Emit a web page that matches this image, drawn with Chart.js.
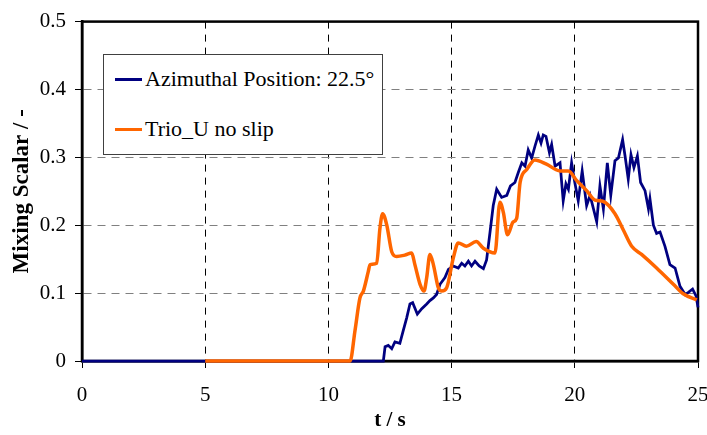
<!DOCTYPE html>
<html>
<head>
<meta charset="utf-8">
<script src="https://cdn.jsdelivr.net/npm/chart.js@4.4.0/dist/chart.umd.min.js"></script>
<style>
  body { margin: 0; background: #fff; }
  .wrap { position: relative; width: 707px; height: 435px; }
  .legend {
    position: absolute; left: 103px; top: 54px; width: 280px; height: 101px;
    background: #fff; border: 1px solid #404040; box-sizing: border-box;
    font-family: "Liberation Serif", serif; font-size: 22px; line-height: 26px; color: #000;
  }
  .legend div { position: absolute; left: 11px; white-space: nowrap; }
  .legend span { display: inline-block; width: 27px; height: 3px; vertical-align: middle; margin-right: 3px; position: relative; top: -1px; }
</style>
</head>
<body>
<div class="wrap">
  <canvas class="my-chart" width="707" height="435"></canvas>
  <div class="legend"></div>
</div>
<script>
// Azimuthal Position: 22.5° (measured)
const blueT = [0, 12.2, 12.23, 12.3, 12.43, 12.57, 12.7, 12.9, 13.04, 13.18, 13.31, 13.42, 13.61, 13.79, 13.99, 14.12, 14.26, 14.39, 14.53, 14.73, 14.87,
  15.07, 15.27, 15.41, 15.54, 15.68, 15.81, 15.95, 16.12, 16.29, 16.42, 16.56, 16.69, 16.83, 17.03, 17.24, 17.39, 17.57, 17.71, 17.85, 17.98,
  18.11, 18.25, 18.38, 18.52, 18.63, 18.72, 18.83, 18.97, 19.06, 19.2, 19.4, 19.53, 19.64, 19.74, 19.87, 20.0, 20.14, 20.3, 20.48, 20.62,
  20.89, 21.02, 21.16, 21.32, 21.46, 21.63, 21.77, 21.94, 22.04, 22.17, 22.28, 22.4, 22.54, 22.67, 22.85, 22.99, 23.05, 23.19, 23.32, 23.46,
  23.66, 23.86, 24.07, 24.27, 24.48, 24.61, 24.78, 24.92, 25.0];
const blueV = [0, 0, 0, 0.021, 0.023, 0.018, 0.028, 0.026, 0.045, 0.064, 0.084, 0.086, 0.069, 0.077, 0.084, 0.089, 0.093, 0.098, 0.113, 0.123, 0.135,
  0.14, 0.137, 0.144, 0.14, 0.147, 0.14, 0.147, 0.14, 0.136, 0.149, 0.19, 0.229, 0.253, 0.241, 0.244, 0.258, 0.263, 0.278, 0.292, 0.287,
  0.311, 0.299, 0.316, 0.333, 0.321, 0.333, 0.331, 0.307, 0.319, 0.287, 0.292, 0.236, 0.261, 0.253, 0.292, 0.263, 0.236, 0.28, 0.229, 0.244,
  0.205, 0.258, 0.224, 0.292, 0.244, 0.295, 0.299, 0.326, 0.302, 0.268, 0.304, 0.285, 0.302, 0.263, 0.251, 0.224, 0.239, 0.2, 0.188, 0.19,
  0.169, 0.142, 0.137, 0.11, 0.098, 0.101, 0.106, 0.096, 0.079];

// Trio_U no slip
const orangeT = [5, 10.88, 11.08, 11.28, 11.42, 11.62, 11.69, 11.96, 12.09, 12.2, 12.37, 12.57, 12.77, 13.1, 13.38, 13.51, 13.72, 13.88, 13.99,
  14.12, 14.26, 14.46, 14.6, 14.8, 15.07, 15.27, 15.6, 16.0, 16.29, 16.76, 16.96, 17.1, 17.27, 17.5, 17.64, 17.78, 18.05, 18.38, 18.85,
  19.4, 19.74, 20.07, 20.48, 20.82, 21.16, 21.63, 21.97, 22.31, 22.71, 23.32, 24.0, 24.4, 24.95];
const orangeV = [0, 0, 0.045, 0.093, 0.103, 0.132, 0.142, 0.144, 0.195, 0.217, 0.2, 0.161, 0.154, 0.156, 0.159, 0.142, 0.113, 0.103, 0.123,
  0.157, 0.142, 0.108, 0.103, 0.108, 0.152, 0.174, 0.169, 0.176, 0.166, 0.159, 0.234, 0.219, 0.186, 0.205, 0.21, 0.263, 0.282, 0.296, 0.29,
  0.28, 0.28, 0.266, 0.251, 0.237, 0.235, 0.217, 0.193, 0.169, 0.157, 0.137, 0.113, 0.099, 0.09];

const seriesLabels = ["Azimuthal Position: 22.5°", "Trio_U no slip"];
const seriesColors = ["#000080", "#ff6600"];

const toPoints = (ts, vs) => ts.map((t, i) => ({ x: t, y: vs[i] }));

const serif = "'Liberation Serif', serif";

// solid black box round the plot area, under the lines
const frame = {
  id: "frame",
  beforeDatasetsDraw(chart) {
    const { ctx, chartArea: a } = chart;
    ctx.save();
    ctx.strokeStyle = "#000";
    ctx.lineWidth = 2.5;
    ctx.strokeRect(a.left, a.top, a.right - a.left, a.bottom - a.top);
    ctx.restore();
  },
};

new Chart(document.querySelector(".my-chart"), {
  type: "line",
  data: {
    datasets: [
      {
        label: seriesLabels[0],
        data: toPoints(blueT, blueV),
        borderColor: seriesColors[0],
        borderWidth: 2.75,
        pointRadius: 0,
        tension: 0,
        clip: false,
        order: 2,
      },
      {
        label: seriesLabels[1],
        data: toPoints(orangeT, orangeV),
        borderColor: seriesColors[1],
        borderWidth: 3.5,
        pointRadius: 0,
        tension: 0.35,
        cubicInterpolationMode: "monotone",
        clip: false,
        order: 1,
      },
    ],
  },
  options: {
    responsive: false,
    animation: false,
    layout: { padding: { top: 17, right: 9, left: 0, bottom: 0 } },
    plugins: { legend: { display: false }, tooltip: { enabled: false } },
    scales: {
      x: {
        type: "linear",
        min: 0,
        max: 25,
        ticks: { stepSize: 5, color: "#000", padding: 15, maxRotation: 0, font: { family: serif, size: 21 } },
        grid: { color: "#000", tickColor: "#000", tickLength: 7, lineWidth: 1 },
        border: { color: "#000", width: 2.5, dash: [7, 6] },
        title: { display: true, text: "t / s", color: "#000", padding: { top: 2, bottom: 2 }, font: { family: serif, size: 21, weight: "bold" } },
        afterFit(s) { s.height = 74; s.paddingLeft = 0; s.paddingRight = 0; },
      },
      y: {
        min: 0,
        max: 0.5,
        ticks: { stepSize: 0.1, color: "#000", padding: 9, font: { family: serif, size: 21 } },
        grid: { color: "#808080", tickColor: "#000", tickLength: 7, lineWidth: 1 },
        border: { color: "#000", width: 2.5, dash: [8, 6] },
        title: { display: true, text: "Mixing Scalar / -", color: "#000", padding: { top: 8, bottom: 8 }, font: { family: serif, size: 23, weight: "bold" } },
        afterFit(s) { s.width = 82; },
      },
    },
  },
  plugins: [frame],
});

const legend = document.querySelector(".legend");
seriesLabels.forEach((l, i) => {
  const row = document.createElement("div");
  row.style.top = (i === 0 ? 11 : 61) + "px";
  row.innerHTML = `<span style="background:${seriesColors[i]}"></span>${l}`;
  legend.appendChild(row);
});
</script>
</body>
</html>
